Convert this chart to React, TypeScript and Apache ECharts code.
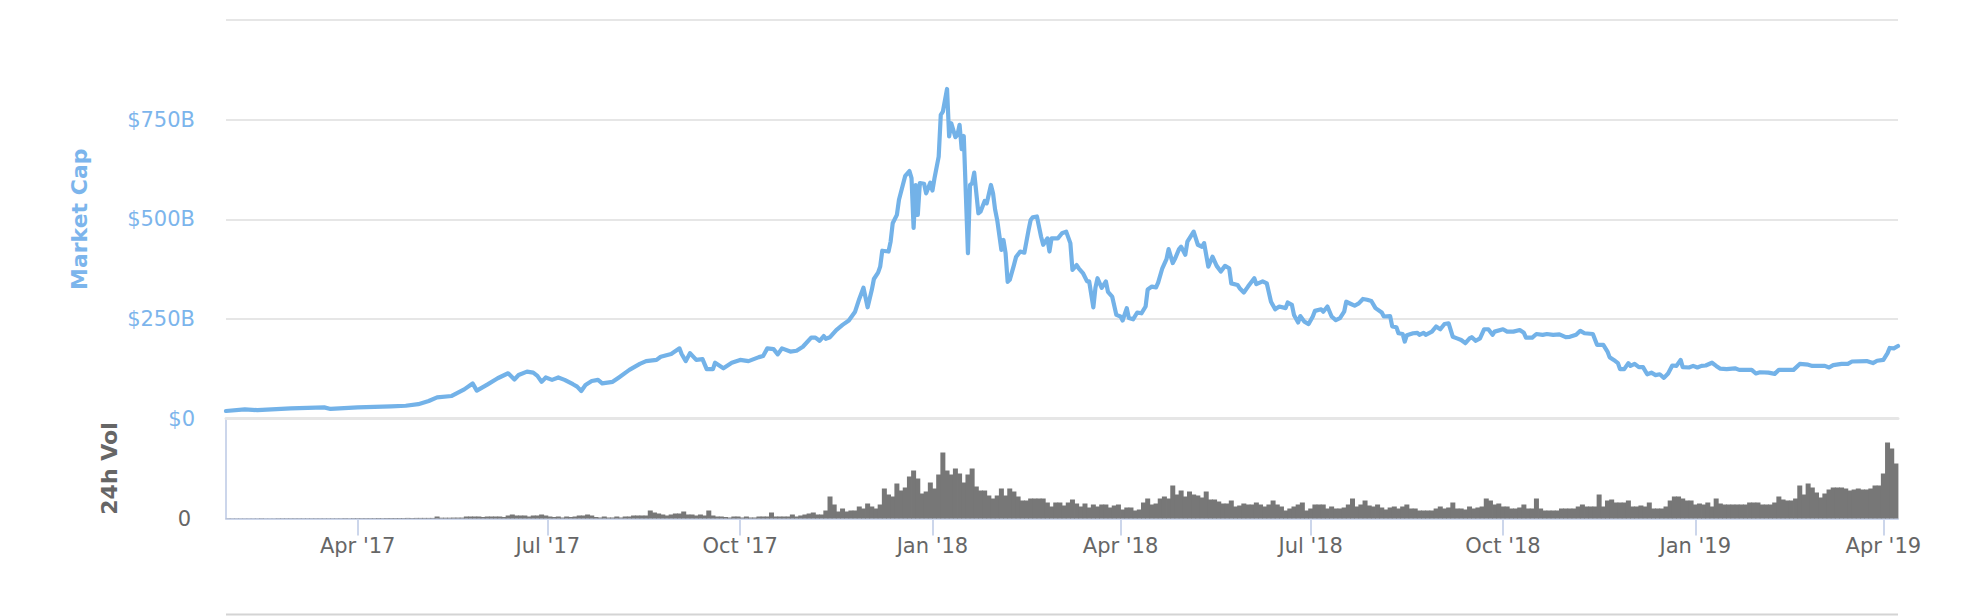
import React, { useEffect, useRef } from "react";
import * as echarts from "echarts";

// ---------- data ----------
const START_DATE = "2017-01-28"; // day 0 of the series
const END_DAY = 800; // last day shown (2019-04-08)

// [day since START_DATE, total market cap in $B]
const capPoints: [number, number][] = [
  [0, 18.8], [9, 23], [15, 21], [31, 25.6], [47, 28], [50, 24], [63, 28], [79, 30.6], [86, 32], [92, 36],
  [97, 44], [101, 53], [108, 56.5], [114, 73], [118, 88], [120, 70], [125, 85], [130, 101], [135, 113.5], [138, 98],
  [140, 109], [144, 117.5], [147, 115], [149, 107], [151, 92], [153, 103], [156, 97], [159, 103], [162, 97], [166, 86],
  [168, 80], [170, 69], [172, 84], [175, 94], [178, 97], [180, 88], [185, 92], [188, 103], [193, 122], [198, 137],
  [201, 144], [206, 147], [208, 155], [213, 162], [217, 176], [218, 162], [220, 144], [222, 164], [225, 147], [228, 149],
  [230, 124], [233, 124], [234, 140], [238, 126], [242, 140], [246, 147], [250, 144], [255, 154], [257, 157], [259, 176],
  [262, 174], [264, 161], [266, 176], [270, 168], [273, 170], [276, 180], [280, 203], [282, 203], [284, 195], [286, 207],
  [287, 200], [289, 204], [292, 222], [295, 235], [298, 246], [301, 268], [303, 300], [305, 328], [307, 279], [309, 323],
  [310, 350], [312, 366], [313, 381], [314, 421], [317, 419], [318, 444], [319, 490], [321, 511], [322, 549], [324, 589],
  [325, 609], [327, 621], [328, 603], [329, 478], [330, 586], [331, 511], [332, 591], [334, 589], [335, 565], [337, 592],
  [338, 572], [339, 603], [341, 657], [342, 762], [343, 770], [345, 827], [346, 708], [347, 741], [349, 706], [350, 712],
  [351, 737], [352, 676], [353, 709], [355, 415], [356, 586], [357, 590], [358, 617], [360, 515], [361, 519], [363, 546],
  [364, 540], [366, 586], [367, 565], [368, 524], [369, 498], [371, 423], [372, 448], [373, 415], [374, 343], [375, 348],
  [377, 385], [378, 405], [380, 419], [382, 416], [384, 473], [385, 498], [386, 505], [388, 507], [390, 456], [391, 436],
  [393, 452], [394, 419], [395, 452], [398, 452], [400, 465], [402, 469], [404, 440], [405, 373], [407, 385], [408, 377],
  [410, 365], [412, 344], [413, 344], [415, 279], [416, 328], [417, 352], [419, 328], [421, 344], [422, 318], [424, 306],
  [426, 260], [428, 256], [429, 246], [431, 277], [432, 252], [434, 249], [436, 266], [438, 264], [440, 281], [441, 324],
  [443, 331], [445, 329], [446, 341], [448, 377], [450, 400], [451, 425], [453, 390], [454, 400], [456, 425], [457, 431],
  [459, 411], [460, 444], [463, 469], [465, 436], [467, 431], [468, 440], [470, 381], [472, 406], [474, 383], [476, 369],
  [478, 383], [480, 377], [481, 339], [484, 335], [485, 327], [487, 316], [489, 331], [492, 352], [493, 337], [496, 344],
  [498, 339], [500, 293], [502, 274], [504, 281], [507, 277], [508, 291], [510, 285], [511, 260], [513, 241], [514, 257],
  [516, 243], [518, 237], [520, 256], [521, 270], [524, 274], [525, 268], [527, 281], [529, 256], [531, 247], [533, 252],
  [535, 268], [536, 293], [538, 288], [540, 283], [542, 289], [544, 300], [546, 298], [548, 295], [550, 277], [553, 266],
  [554, 256], [557, 257], [558, 231], [560, 229], [561, 214], [563, 212], [564, 193], [565, 209], [568, 214], [570, 215],
  [571, 210], [573, 215], [574, 210], [577, 218], [579, 231], [581, 224], [583, 237], [585, 239], [587, 205], [589, 201],
  [591, 197], [593, 189], [595, 201], [596, 204], [598, 195], [600, 201], [602, 224], [604, 224], [606, 210], [607, 218],
  [611, 224], [613, 218], [616, 218], [619, 222], [621, 215], [622, 203], [625, 203], [627, 212], [630, 210], [632, 212],
  [635, 210], [638, 211], [641, 204], [643, 205], [646, 210], [648, 220], [650, 214], [654, 212], [656, 185], [659, 185],
  [661, 168], [662, 154], [664, 147], [666, 139], [667, 124], [669, 124], [671, 139], [672, 132], [674, 137], [676, 129],
  [678, 129], [680, 111], [682, 115], [684, 109], [686, 111], [688, 102], [690, 113], [692, 133], [694, 132], [696, 147],
  [697, 129], [700, 128], [702, 132], [704, 128], [706, 132], [708, 133], [711, 140], [713, 132], [715, 125], [718, 124],
  [722, 126], [724, 122], [730, 122], [732, 113], [734, 116], [738, 115], [741, 112], [743, 122], [750, 122], [753, 137],
  [757, 135], [759, 132], [765, 132], [767, 128], [769, 134], [773, 137], [776, 137], [778, 143], [785, 144], [788, 139],
  [790, 145], [793, 147], [795, 164], [796, 177], [798, 176], [800, 182],
];

// 24h volume ($B), one value per 2-day bucket starting at day 0
const volumeBuckets: number[] = [
  0.2, 0.2, 0.2, 0.2, 0.2, 0.2, 0.2, 0.2, 0.3, 0.2,
  0.2, 0.2, 0.3, 0.3, 0.3, 0.3, 0.3, 0.3, 0.3, 0.3,
  0.3, 0.3, 0.3, 0.3, 0.3, 0.3, 0.3, 0.3, 0.4, 0.3,
  0.4, 0.4, 0.4, 0.4, 0.4, 0.4, 0.5, 0.4, 0.5, 0.5,
  0.5, 0.5, 0.5, 0.6, 0.5, 0.6, 0.6, 0.6, 0.6, 0.6,
  2, 0.8, 0.8, 0.8, 0.9, 0.9, 0.9, 2, 2, 2,
  2, 1.5, 2, 2, 2, 2, 1.5, 3, 4, 3,
  3, 3, 2, 3, 3, 4, 3, 2, 1.5, 2,
  1, 2, 1.5, 2, 3, 3, 4, 3, 1.5, 1,
  2, 1, 1, 2, 1, 2, 2, 3, 3, 3,
  3, 8, 6, 5, 4, 3, 4, 5, 5, 7,
  4, 4, 3, 4, 3, 8, 3, 2, 2, 1.5,
  1, 2, 2, 1, 2, 1, 1, 2, 2, 2,
  6, 2, 2, 2, 2, 4, 2, 3, 4, 5,
  6, 4, 4, 8, 22, 14, 7, 10, 7, 8,
  8, 12, 10, 15, 12, 10, 14, 30, 24, 22,
  35, 28, 31, 42, 48, 40, 25, 27, 36, 30,
  44, 66, 48, 44, 50, 45, 36, 44, 50, 32,
  28, 28, 23, 20, 23, 30, 23, 30, 27, 22,
  18, 18, 20, 20, 20, 20, 16, 12, 16, 16,
  13, 16, 19, 15, 12, 15, 11, 14, 12, 14,
  14, 11, 13, 14, 9, 11, 11, 8, 9, 16,
  20, 14, 15, 20, 22, 20, 33, 24, 28, 22,
  27, 24, 23, 21, 27, 19, 19, 17, 15, 15,
  18, 12, 13, 15, 14, 14, 16, 14, 12, 14,
  18, 14, 12, 8, 10, 12, 14, 16, 8, 10,
  14, 14, 14, 10, 12, 10, 10, 11, 14, 20,
  12, 14, 18, 13, 12, 14, 11, 9, 11, 12,
  10, 12, 14, 10, 10, 8, 8, 8, 8, 10,
  12, 10, 11, 16, 10, 10, 9, 12, 10, 11,
  12, 20, 18, 14, 15, 12, 12, 10, 10, 11,
  14, 10, 10, 20, 10, 8, 8, 8, 8, 10,
  10, 10, 10, 12, 14, 12, 12, 12, 24, 12,
  18, 19, 16, 16, 16, 18, 12, 12, 13, 12,
  16, 10, 10, 10, 12, 18, 22, 22, 20, 18,
  18, 14, 15, 14, 16, 12, 20, 15, 14, 14,
  14, 14, 14, 14, 16, 16, 16, 14, 14, 14,
  16, 22, 19, 18, 18, 20, 33, 24, 35, 31,
  26, 21, 25, 29, 31, 31, 31, 30, 28, 29,
  30, 29, 29, 30, 33, 33, 45, 76, 70, 55,
];

const tickDates = [
  "2017-04-01", "2017-07-01", "2017-10-01", "2018-01-01", "2018-04-01",
  "2018-07-01", "2018-10-01", "2019-01-01", "2019-04-01",
];
const tickLabels = [
  "Apr '17", "Jul '17", "Oct '17", "Jan '18", "Apr '18",
  "Jul '18", "Oct '18", "Jan '19", "Apr '19",
];

const capTicks = [0, 250, 500, 750, 1000];
const capTickLabels = ["$0", "$250B", "$500B", "$750B", ""];

// ---------- helpers ----------
const DAY = 86400000;
const dayOf = (s: string) => Math.round((Date.parse(s) - Date.parse(START_DATE)) / DAY);
const tickDays = tickDates.map(dayOf);
const volData: [number, number][] = volumeBuckets.map((v, k) => [2 * k + 1, v]);

const FONT = "DejaVu Sans";
const BLUE = "#73b2e8";

export default function App() {
  const ref = useRef<HTMLDivElement>(null);

  useEffect(() => {
    if (!ref.current) return;
    const chart = echarts.init(ref.current, undefined, { renderer: "svg" });
    const option: any = {
      animation: false,
      textStyle: { fontFamily: FONT },
      grid: [
        { left: 226, right: 74, top: 20, height: 398.5 },
        { left: 226, right: 74, top: 418.5, height: 100 },
      ],
      xAxis: [
        {
          type: "value",
          gridIndex: 0,
          min: 0,
          max: END_DAY,
          axisLine: { show: true, lineStyle: { color: "#e6e6e6", width: 3 } },
          axisTick: { show: false },
          axisLabel: { show: false },
          splitLine: { show: false },
        },
        {
          type: "value",
          gridIndex: 1,
          min: 0,
          max: END_DAY,
          axisLine: { show: true, lineStyle: { color: "#ccd6eb", width: 2 } },
          axisTick: {
            show: true,
            customValues: tickDays,
            length: 17,
            lineStyle: { color: "#ccd6eb", width: 2 },
          },
          axisLabel: {
            customValues: tickDays,
            formatter: (v: number) => {
              const i = tickDays.findIndex((d) => Math.abs(d - v) < 0.5);
              return i >= 0 ? tickLabels[i] : "";
            },
            color: "#666666",
            fontSize: 21,
            fontFamily: FONT,
            margin: 17,
          },
          splitLine: { show: false },
        },
      ],
      yAxis: [
        {
          type: "value",
          gridIndex: 0,
          min: 0,
          max: 1000,
          interval: 250,
          axisLine: { show: false },
          axisTick: { show: false },
          splitLine: { show: true, lineStyle: { color: "#e6e6e6", width: 2 } },
          axisLabel: {
            formatter: (v: number) => {
              const i = capTicks.indexOf(v);
              return i >= 0 ? capTickLabels[i] : "";
            },
            color: "#7cb5ec",
            fontSize: 21,
            fontFamily: FONT,
            margin: 31,
            padding: [0, 0, 25, 0],
          },
          name: "Market Cap",
          nameLocation: "middle",
          nameGap: 136,
          nameTextStyle: { color: "#7cb5ec", fontSize: 22, fontWeight: "bold", fontFamily: FONT },
        },
        {
          type: "value",
          gridIndex: 1,
          min: 0,
          max: 100,
          interval: 100,
          offset: 5,
          axisLine: { show: true, lineStyle: { color: "#ccd6eb", width: 2 } },
          axisTick: { show: false },
          splitLine: { show: false },
          axisLabel: {
            formatter: (v: number) => (v === 0 ? "0" : ""),
            color: "#666666",
            fontSize: 21,
            fontFamily: FONT,
            margin: 30,
            padding: [0, 0, 23, 0],
          },
          name: "24h Vol",
          nameLocation: "middle",
          nameGap: 101,
          nameTextStyle: { color: "#666666", fontSize: 22, fontWeight: "bold", fontFamily: FONT },
        },
      ],
      series: [
        {
          type: "bar",
          xAxisIndex: 1,
          yAxisIndex: 1,
          data: volData,
          barWidth: 5,
          itemStyle: { color: "#777777" },
          silent: true,
        },
        {
          type: "line",
          xAxisIndex: 0,
          yAxisIndex: 0,
          data: capPoints,
          showSymbol: false,
          symbol: "none",
          lineStyle: { color: BLUE, width: 4.2, cap: "round", join: "round" },
          silent: true,
          z: 5,
        },
      ],
      graphic: [
        {
          type: "rect",
          silent: true,
          shape: { x: 226, y: 613.5, width: 1672, height: 2 },
          style: { fill: "#d4d4d4" },
        },
      ],
    };
    chart.setOption(option);
    return () => chart.dispose();
  }, []);

  return (
    <div
      ref={ref}
      style={{ position: "fixed", left: 0, top: 0, width: 1972, height: 616, background: "#ffffff" }}
    />
  );
}
